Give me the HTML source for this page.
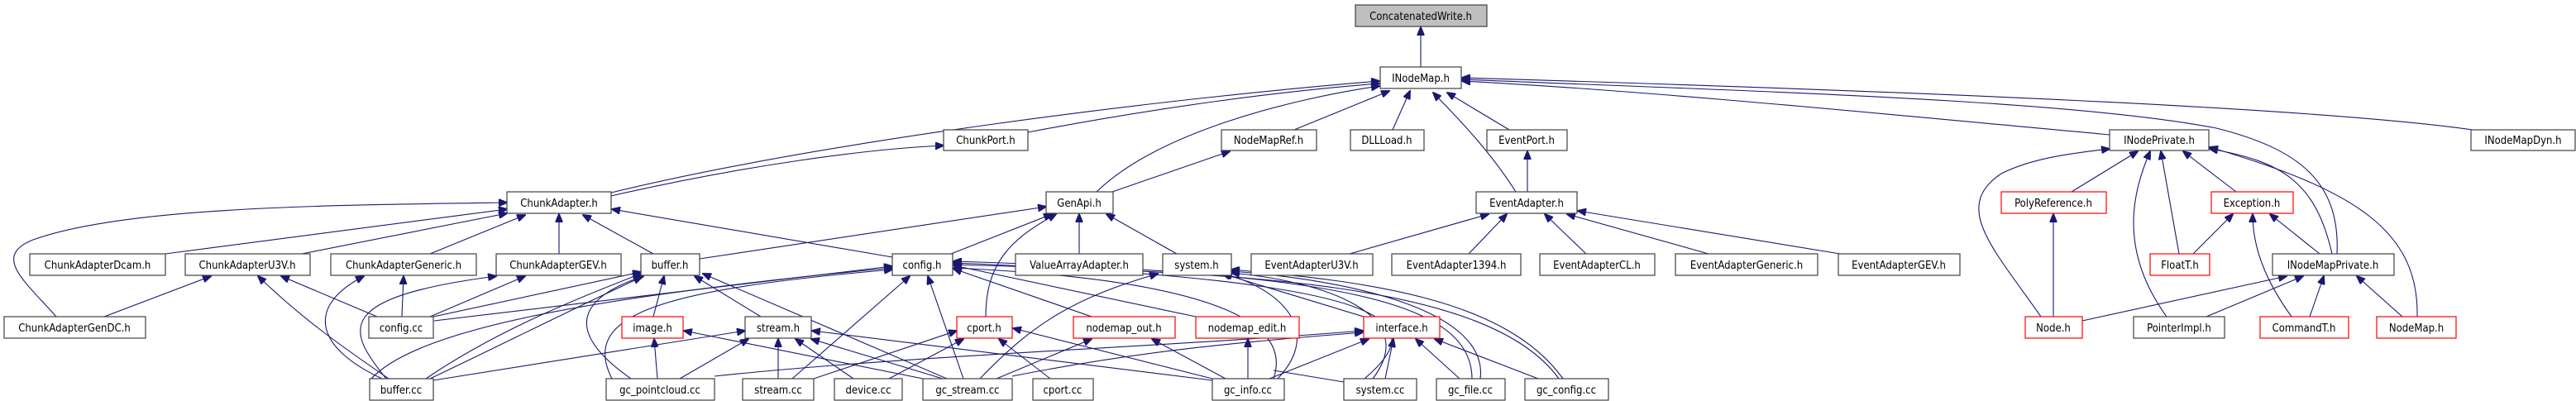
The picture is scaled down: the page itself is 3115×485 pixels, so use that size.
<!DOCTYPE html>
<html><head><meta charset="utf-8"><style>
html,body{margin:0;padding:0;background:#fff;}
svg{display:block;}
text{font-family:"DejaVu Sans Condensed","DejaVu Sans","Liberation Sans",sans-serif;font-size:13px;fill:#000;text-anchor:middle;}
.n{fill:#fff;stroke:#404040;stroke-width:1.2;}
.r{fill:#fff;stroke:#ff0000;stroke-width:1.2;}
.g{fill:#bfbfbf;stroke:#404040;stroke-width:1.2;}
path,line{stroke:#191970;stroke-width:1.1;fill:none;}
</style></head><body>
<svg width="3115" height="485" viewBox="0 0 3115 485" xmlns="http://www.w3.org/2000/svg">
<defs><marker id="a" markerWidth="11" markerHeight="9" refX="10" refY="4.5" orient="auto" markerUnits="userSpaceOnUse"><path d="M0,0 L11,4.5 L0,9 Z" style="fill:#191970;stroke:#191970"/></marker></defs>
<g marker-end="url(#a)">
<line x1="1718" y1="81" x2="1718" y2="33"/>
<path d="M739,233 C1000,170 1400,120 1668,98"/>
<path d="M1243,160 C1400,130 1550,110 1668,101"/>
<path d="M739,237 C900,200 1050,180 1141,176"/>
<path d="M1326,232 C1400,160 1560,120 1668,104"/>
<line x1="1565" y1="157" x2="1680" y2="110"/>
<line x1="1684" y1="157" x2="1705" y2="110"/>
<path d="M1833,232 C1800,180 1760,140 1733,112"/>
<line x1="1825" y1="157" x2="1750" y2="112"/>
<path d="M2551,163 C2300,140 2000,110 1768,98"/>
<path d="M2826,307 C2830,220 2780,180 2680,155 C2500,120 2100,110 1768,96"/>
<path d="M2990,157 C2800,130 2300,110 1768,94"/>
<line x1="1345" y1="232" x2="1487" y2="183"/>
<line x1="846" y1="313" x2="1265" y2="250"/>
<line x1="1150" y1="307" x2="1272" y2="259"/>
<path d="M1192,383 C1192,320 1220,290 1277,259"/>
<line x1="1305" y1="307" x2="1305" y2="259"/>
<line x1="1423" y1="307" x2="1338" y2="259"/>
<line x1="200" y1="307" x2="613" y2="253"/>
<line x1="365" y1="307" x2="613" y2="258"/>
<line x1="520" y1="307" x2="635" y2="260"/>
<line x1="676" y1="307" x2="676" y2="259"/>
<line x1="790" y1="307" x2="705" y2="260"/>
<path d="M68,383 C30,340 -10,310 40,290 C150,250 400,248 613,245"/>
<line x1="1079" y1="311" x2="740" y2="253"/>
<line x1="126" y1="383" x2="255" y2="334"/>
<line x1="456" y1="383" x2="340" y2="334"/>
<path d="M470,458 C400,410 360,380 312,334"/>
<line x1="486" y1="383" x2="488" y2="334"/>
<path d="M462,458 C380,420 370,370 440,334"/>
<line x1="520" y1="383" x2="635" y2="334"/>
<path d="M467,458 C420,400 400,360 600,334"/>
<line x1="524" y1="383" x2="775" y2="329"/>
<path d="M515,458 C600,400 700,360 775,331"/>
<path d="M520,458 C600,420 700,370 776,335"/>
<line x1="790" y1="383" x2="803" y2="334"/>
<line x1="920" y1="383" x2="840" y2="334"/>
<line x1="1145" y1="458" x2="850" y2="331"/>
<path d="M763,458 C680,400 700,360 778,334"/>
<line x1="525" y1="388" x2="1079" y2="322"/>
<path d="M447,460 C500,400 700,360 1079,324"/>
<path d="M740,458 C700,380 800,350 1079,326"/>
<line x1="958" y1="458" x2="1100" y2="334"/>
<line x1="1165" y1="458" x2="1122" y2="334"/>
<line x1="1320" y1="383" x2="1153" y2="325"/>
<line x1="1446" y1="383" x2="1153" y2="321"/>
<path d="M1650,458 C1730,390 1700,340 1153,318"/>
<path d="M1780,458 C1780,360 1600,330 1153,316"/>
<path d="M1885,458 C1800,340 1500,330 1153,320"/>
<path d="M1540,458 C1560,400 1500,340 1153,324"/>
<path d="M1185,458 C1250,390 1300,360 1400,331"/>
<path d="M1545,458 C1600,400 1550,350 1480,331"/>
<line x1="1649" y1="383" x2="1478" y2="331"/>
<path d="M1660,458 C1720,380 1600,340 1489,330"/>
<path d="M1790,458 C1800,380 1650,340 1489,328"/>
<path d="M1890,458 C1820,360 1650,340 1489,326"/>
<line x1="795" y1="458" x2="791" y2="410"/>
<line x1="1116" y1="458" x2="827" y2="400"/>
<line x1="524" y1="460" x2="901" y2="400"/>
<line x1="822" y1="458" x2="905" y2="410"/>
<line x1="941" y1="458" x2="941" y2="410"/>
<line x1="1032" y1="458" x2="962" y2="410"/>
<line x1="1140" y1="458" x2="981" y2="410"/>
<line x1="1466" y1="460" x2="982" y2="400"/>
<line x1="984" y1="458" x2="1157" y2="400"/>
<line x1="1075" y1="458" x2="1165" y2="410"/>
<line x1="1270" y1="458" x2="1208" y2="410"/>
<line x1="1466" y1="458" x2="1225" y2="397"/>
<line x1="1205" y1="458" x2="1320" y2="410"/>
<line x1="1482" y1="458" x2="1393" y2="410"/>
<line x1="1509" y1="458" x2="1509" y2="410"/>
<path d="M864,455 C1100,430 1400,420 1648,400"/>
<path d="M1224,455 C1400,420 1550,410 1648,402"/>
<line x1="1535" y1="458" x2="1655" y2="410"/>
<line x1="1675" y1="458" x2="1685" y2="410"/>
<line x1="1765" y1="458" x2="1712" y2="410"/>
<line x1="1860" y1="458" x2="1735" y2="410"/>
<line x1="1847" y1="232" x2="1847" y2="183"/>
<line x1="1632" y1="307" x2="1800" y2="259"/>
<line x1="1776" y1="307" x2="1822" y2="259"/>
<line x1="1918" y1="307" x2="1868" y2="259"/>
<line x1="2066" y1="307" x2="1895" y2="259"/>
<line x1="2225" y1="307" x2="1908" y2="255"/>
<line x1="2505" y1="232" x2="2585" y2="183"/>
<path d="M2468,383 C2410,300 2360,250 2420,210 C2460,190 2510,185 2551,180"/>
<path d="M2620,383 C2560,300 2580,230 2600,183"/>
<line x1="2635" y1="307" x2="2613" y2="183"/>
<line x1="2704" y1="232" x2="2640" y2="183"/>
<path d="M2820,307 C2800,220 2760,195 2672,180"/>
<path d="M2923,383 C2925,280 2850,230 2672,178"/>
<line x1="2483" y1="383" x2="2483" y2="259"/>
<line x1="2652" y1="307" x2="2700" y2="259"/>
<path d="M2771,383 C2740,340 2724,300 2724,259"/>
<line x1="2805" y1="307" x2="2745" y2="259"/>
<line x1="2518" y1="388" x2="2765" y2="334"/>
<line x1="2668" y1="383" x2="2785" y2="334"/>
<line x1="2793" y1="383" x2="2810" y2="334"/>
<line x1="2905" y1="383" x2="2850" y2="334"/>
</g>
<line x1="1625" y1="462" x2="1540" y2="448"/>
<rect class="g" x="1639" y="6" width="159" height="26"/><text x="1718" y="24">ConcatenatedWrite.h</text>
<rect class="n" x="1669" y="81" width="98" height="26"/><text x="1718" y="99">INodeMap.h</text>
<rect class="n" x="1141" y="157" width="102" height="25"/><text x="1192" y="174">ChunkPort.h</text>
<rect class="n" x="1477" y="157" width="115" height="25"/><text x="1534" y="174">NodeMapRef.h</text>
<rect class="n" x="1633" y="157" width="89" height="25"/><text x="1677" y="174">DLLLoad.h</text>
<rect class="n" x="1798" y="157" width="97" height="25"/><text x="1846" y="174">EventPort.h</text>
<rect class="n" x="2551" y="157" width="120" height="25"/><text x="2611" y="174">INodePrivate.h</text>
<rect class="n" x="2988" y="157" width="126" height="25"/><text x="3051" y="174">INodeMapDyn.h</text>
<rect class="n" x="613" y="232" width="126" height="26"/><text x="676" y="250">ChunkAdapter.h</text>
<rect class="n" x="1265" y="232" width="81" height="26"/><text x="1305" y="250">GenApi.h</text>
<rect class="n" x="1785" y="232" width="122" height="26"/><text x="1846" y="250">EventAdapter.h</text>
<rect class="r" x="2420" y="232" width="127" height="26"/><text x="2483" y="250">PolyReference.h</text>
<rect class="r" x="2674" y="232" width="99" height="26"/><text x="2723" y="250">Exception.h</text>
<rect class="n" x="36" y="307" width="164" height="26"/><text x="118" y="325">ChunkAdapterDcam.h</text>
<rect class="n" x="224" y="307" width="151" height="26"/><text x="299" y="325">ChunkAdapterU3V.h</text>
<rect class="n" x="400" y="307" width="176" height="26"/><text x="488" y="325">ChunkAdapterGeneric.h</text>
<rect class="n" x="600" y="307" width="151" height="26"/><text x="675" y="325">ChunkAdapterGEV.h</text>
<rect class="n" x="775" y="307" width="71" height="26"/><text x="810" y="325">buffer.h</text>
<rect class="n" x="1079" y="307" width="73" height="26"/><text x="1115" y="325">config.h</text>
<rect class="n" x="1228" y="307" width="154" height="26"/><text x="1305" y="325">ValueArrayAdapter.h</text>
<rect class="n" x="1406" y="307" width="83" height="26"/><text x="1447" y="325">system.h</text>
<rect class="n" x="1513" y="307" width="147" height="26"/><text x="1586" y="325">EventAdapterU3V.h</text>
<rect class="n" x="1683" y="307" width="156" height="26"/><text x="1761" y="325">EventAdapter1394.h</text>
<rect class="n" x="1862" y="307" width="139" height="26"/><text x="1931" y="325">EventAdapterCL.h</text>
<rect class="n" x="2026" y="307" width="172" height="26"/><text x="2112" y="325">EventAdapterGeneric.h</text>
<rect class="n" x="2223" y="307" width="147" height="26"/><text x="2296" y="325">EventAdapterGEV.h</text>
<rect class="r" x="2600" y="307" width="72" height="26"/><text x="2636" y="325">FloatT.h</text>
<rect class="n" x="2748" y="307" width="147" height="26"/><text x="2821" y="325">INodeMapPrivate.h</text>
<rect class="n" x="5" y="383" width="171" height="26"/><text x="90" y="401">ChunkAdapterGenDC.h</text>
<rect class="n" x="446" y="383" width="78" height="26"/><text x="485" y="401">config.cc</text>
<rect class="r" x="752" y="383" width="74" height="26"/><text x="789" y="401">image.h</text>
<rect class="n" x="901" y="383" width="80" height="26"/><text x="941" y="401">stream.h</text>
<rect class="r" x="1157" y="383" width="67" height="26"/><text x="1190" y="401">cport.h</text>
<rect class="r" x="1298" y="383" width="123" height="26"/><text x="1359" y="401">nodemap_out.h</text>
<rect class="r" x="1446" y="383" width="125" height="26"/><text x="1508" y="401">nodemap_edit.h</text>
<rect class="r" x="1649" y="383" width="92" height="26"/><text x="1695" y="401">interface.h</text>
<rect class="r" x="2449" y="383" width="69" height="26"/><text x="2483" y="401">Node.h</text>
<rect class="n" x="2580" y="383" width="110" height="26"/><text x="2635" y="401">PointerImpl.h</text>
<rect class="r" x="2733" y="383" width="107" height="26"/><text x="2786" y="401">CommandT.h</text>
<rect class="r" x="2874" y="383" width="96" height="26"/><text x="2922" y="401">NodeMap.h</text>
<rect class="n" x="447" y="458" width="77" height="26"/><text x="485" y="476">buffer.cc</text>
<rect class="n" x="733" y="458" width="131" height="26"/><text x="798" y="476">gc_pointcloud.cc</text>
<rect class="n" x="898" y="458" width="86" height="26"/><text x="941" y="476">stream.cc</text>
<rect class="n" x="1009" y="458" width="82" height="26"/><text x="1050" y="476">device.cc</text>
<rect class="n" x="1116" y="458" width="108" height="26"/><text x="1170" y="476">gc_stream.cc</text>
<rect class="n" x="1249" y="458" width="73" height="26"/><text x="1285" y="476">cport.cc</text>
<rect class="n" x="1466" y="458" width="87" height="26"/><text x="1509" y="476">gc_info.cc</text>
<rect class="n" x="1625" y="458" width="88" height="26"/><text x="1669" y="476">system.cc</text>
<rect class="n" x="1737" y="458" width="83" height="26"/><text x="1778" y="476">gc_file.cc</text>
<rect class="n" x="1844" y="458" width="101" height="26"/><text x="1894" y="476">gc_config.cc</text>
</svg>
</body></html>
